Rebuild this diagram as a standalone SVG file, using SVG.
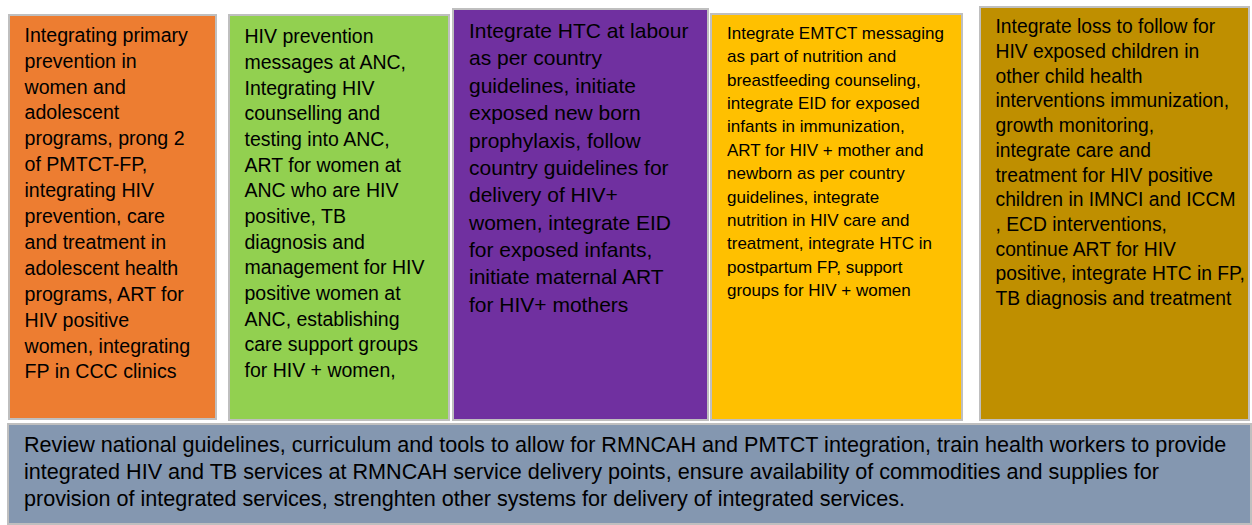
<svg xmlns="http://www.w3.org/2000/svg" width="1252" height="525" viewBox="0 0 1252 525">
<style>
.box{stroke:#bfbfbf;stroke-width:2}
.t{font-family:"Liberation Sans",Arial,sans-serif;fill:#000}
</style>
<rect width="1252" height="525" fill="#ffffff"/>
<g id="prong1">
<rect class="box" x="9" y="15" width="207" height="404" fill="#ED7D31"/>
<text class="t" font-size="19.6">
<tspan x="24.5" y="41.7">Integrating primary</tspan>
<tspan x="24.5" y="67.6">prevention in</tspan>
<tspan x="24.5" y="93.5">women and</tspan>
<tspan x="24.5" y="119.4">adolescent</tspan>
<tspan x="24.5" y="145.3">programs, prong 2</tspan>
<tspan x="24.5" y="171.2">of PMTCT-FP,</tspan>
<tspan x="24.5" y="197.1">integrating HIV</tspan>
<tspan x="24.5" y="223">prevention, care</tspan>
<tspan x="24.5" y="248.9">and treatment in</tspan>
<tspan x="24.5" y="274.8">adolescent health</tspan>
<tspan x="24.5" y="300.7">programs, ART for</tspan>
<tspan x="24.5" y="326.6">HIV positive</tspan>
<tspan x="24.5" y="352.5">women, integrating</tspan>
<tspan x="24.5" y="378.4">FP in CCC clinics</tspan>
</text>
</g>
<g id="anc">
<rect class="box" x="229" y="15" width="220" height="405" fill="#92D050"/>
<text class="t" font-size="19.5">
<tspan x="244.5" y="43.3">HIV prevention</tspan>
<tspan x="244.5" y="69">messages at ANC,</tspan>
<tspan x="244.5" y="94.6">Integrating  HIV</tspan>
<tspan x="244.5" y="120.3">counselling and</tspan>
<tspan x="244.5" y="145.9">testing into ANC,</tspan>
<tspan x="244.5" y="171.6">ART for women at</tspan>
<tspan x="244.5" y="197.2">ANC who are HIV</tspan>
<tspan x="244.5" y="222.9">positive, TB</tspan>
<tspan x="244.5" y="248.5">diagnosis and</tspan>
<tspan x="244.5" y="274.2">management for HIV</tspan>
<tspan x="244.5" y="299.8">positive women at</tspan>
<tspan x="244.5" y="325.5">ANC, establishing</tspan>
<tspan x="244.5" y="351.1">care support groups</tspan>
<tspan x="244.5" y="376.8">for HIV + women,</tspan>
</text>
</g>
<g id="labour">
<rect class="box" x="453" y="9" width="255" height="411" fill="#7030A0"/>
<text class="t" font-size="21">
<tspan x="469" y="38">Integrate HTC at labour</tspan>
<tspan x="469" y="65.4">as per country</tspan>
<tspan x="469" y="92.7">guidelines, initiate</tspan>
<tspan x="469" y="120.1">exposed new born</tspan>
<tspan x="469" y="147.5">prophylaxis, follow</tspan>
<tspan x="469" y="174.9">country guidelines for</tspan>
<tspan x="469" y="202.2">delivery of HIV+</tspan>
<tspan x="469" y="229.6">women, integrate EID</tspan>
<tspan x="469" y="257">for exposed infants,</tspan>
<tspan x="469" y="284.3">initiate maternal ART</tspan>
<tspan x="469" y="311.7">for HIV+ mothers</tspan>
</text>
</g>
<g id="postnatal">
<rect class="box" x="711" y="14" width="251" height="406" fill="#FFC000"/>
<text class="t" font-size="17">
<tspan x="727" y="39">Integrate EMTCT messaging</tspan>
<tspan x="727" y="62.4">as part of nutrition and</tspan>
<tspan x="727" y="85.7">breastfeeding counseling,</tspan>
<tspan x="727" y="109.1">integrate EID for exposed</tspan>
<tspan x="727" y="132.4">infants in immunization,</tspan>
<tspan x="727" y="155.8">ART for HIV + mother and</tspan>
<tspan x="727" y="179.2">newborn as per country</tspan>
<tspan x="727" y="202.5">guidelines, integrate</tspan>
<tspan x="727" y="225.9">nutrition in HIV care and</tspan>
<tspan x="727" y="249.2">treatment, integrate HTC in</tspan>
<tspan x="727" y="272.6">postpartum FP, support</tspan>
<tspan x="727" y="296">groups for HIV + women</tspan>
</text>
</g>
<g id="child">
<rect class="box" x="980" y="7" width="269" height="413" fill="#BF8F00"/>
<text class="t" font-size="19.3">
<tspan x="995.5" y="33.3">Integrate loss to follow for</tspan>
<tspan x="995.5" y="58">HIV exposed children in</tspan>
<tspan x="995.5" y="82.7">other child health</tspan>
<tspan x="995.5" y="107.4">interventions immunization,</tspan>
<tspan x="995.5" y="132.1">growth monitoring,</tspan>
<tspan x="995.5" y="156.8">integrate care and</tspan>
<tspan x="995.5" y="181.5">treatment for HIV positive</tspan>
<tspan x="995.5" y="206.2">children in IMNCI and ICCM</tspan>
<tspan x="995.5" y="230.9">, ECD interventions,</tspan>
<tspan x="995.5" y="255.6">continue ART for HIV</tspan>
<tspan x="995.5" y="280.3">positive, integrate HTC in FP,</tspan>
<tspan x="995.5" y="305">TB diagnosis and treatment</tspan>
</text>
</g>
<g id="systems">
<rect class="box" x="8" y="424" width="1243" height="100" fill="#8497B0"/>
<text class="t" font-size="21.6">
<tspan x="24" y="452">Review national guidelines, curriculum and tools to allow for RMNCAH and PMTCT integration, train health workers to provide</tspan>
<tspan x="24" y="479">integrated HIV and TB services at RMNCAH service delivery points, ensure availability of commodities and supplies for</tspan>
<tspan x="24" y="506">provision of integrated services, strenghten other systems for delivery of integrated services.</tspan>
</text>
</g>
</svg>
